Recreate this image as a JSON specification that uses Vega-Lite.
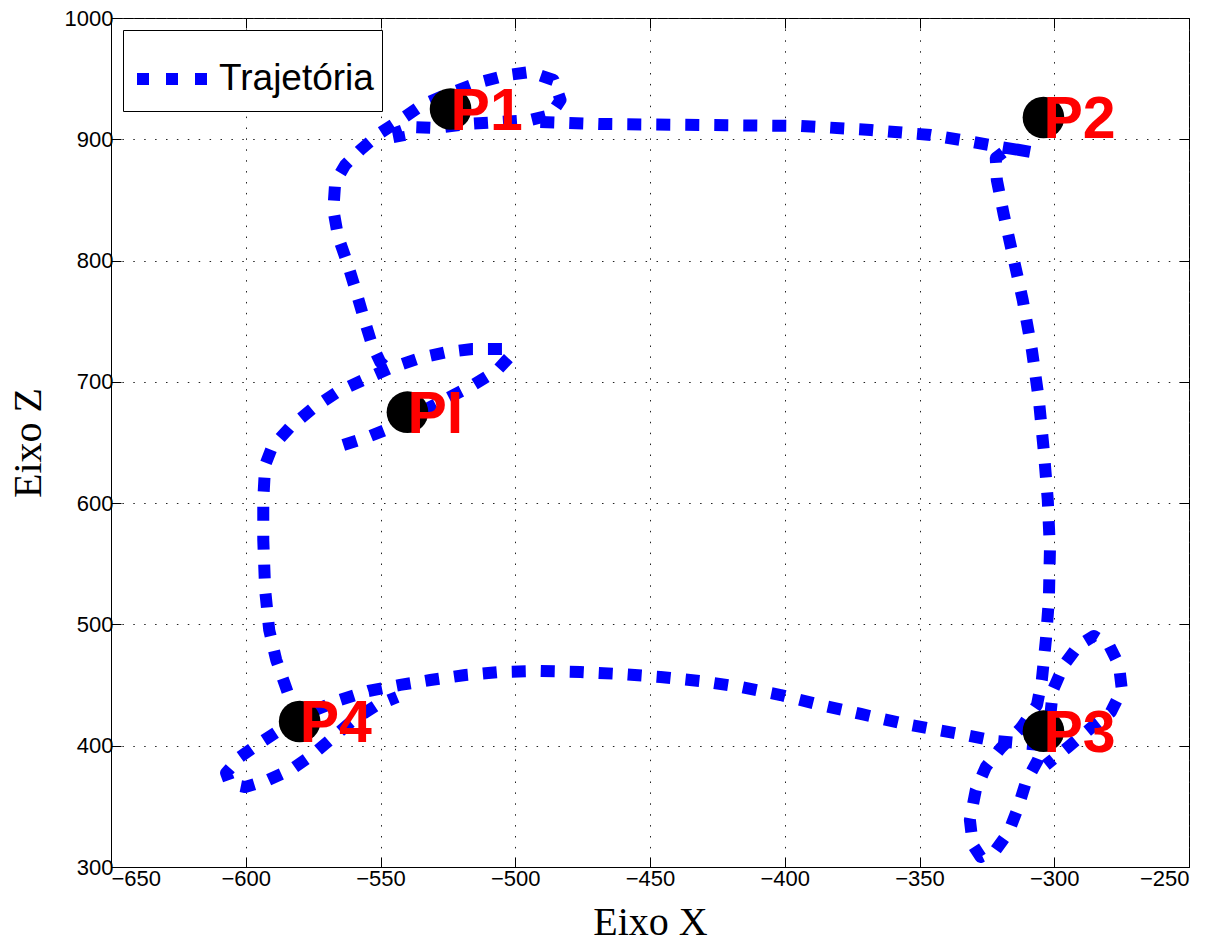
{
  "$schema": "https://vega.github.io/schema/vega-lite/v6.json",
  "width": 1078,
  "height": 849,
  "autosize": {"type": "none"},
  "padding": {"left": 111, "top": 18, "right": 32, "bottom": 75},
  "background": "white",
  "config": {
    "font": "Liberation Sans",
    "view": {"stroke": "black", "strokeWidth": 1},
    "axis": {
      "domainColor": "black",
      "tickColor": "black",
      "labelColor": "black",
      "titleColor": "black",
      "labelFont": "Liberation Sans",
      "labelFontSize": 22,
      "titleFont": "Liberation Serif",
      "titleFontSize": 40,
      "titleFontWeight": "normal",
      "tickSize": -10,
      "gridColor": "#222222",
      "gridDash": [1.5, 9.4],
      "gridWidth": 1,
      "gridOpacity": 1
    },
    "legend": {
      "orient": "top-left",
      "offset": 12,
      "padding": 8,
      "strokeColor": "black",
      "strokeWidth": 1,
      "fillColor": "white",
      "cornerRadius": 0,
      "labelFont": "Liberation Sans",
      "labelFontSize": 37,
      "labelColor": "black",
      "labelOffset": 6,
      "symbolType": "stroke",
      "symbolStrokeWidth": 12,
      "symbolSize": 4900,
      "symbolDash": [12, 17],
      "symbolOpacity": 1
    }
  },
  "datasets": {
    "traj": [
      {"s": 1, "i": 1, "x": -563.8, "z": 647.9},
      {"s": 1, "i": 2, "x": -555.7, "z": 653.7},
      {"s": 1, "i": 3, "x": -546.4, "z": 661.9},
      {"s": 1, "i": 4, "x": -540.8, "z": 668.6},
      {"s": 1, "i": 5, "x": -527.8, "z": 683.4},
      {"s": 1, "i": 6, "x": -515.6, "z": 697.4},
      {"s": 1, "i": 7, "x": -506.6, "z": 709.8},
      {"s": 1, "i": 8, "x": -501.8, "z": 721.3},
      {"s": 1, "i": 9, "x": -503.7, "z": 727.1},
      {"s": 1, "i": 10, "x": -515.9, "z": 727.1},
      {"s": 1, "i": 11, "x": -525.2, "z": 724.6},
      {"s": 1, "i": 12, "x": -535.2, "z": 719.7},
      {"s": 1, "i": 13, "x": -546.4, "z": 711.4},
      {"s": 1, "i": 14, "x": -556.4, "z": 701.5},
      {"s": 1, "i": 15, "x": -566.1, "z": 691.6},
      {"s": 1, "i": 16, "x": -575.0, "z": 678.4},
      {"s": 1, "i": 17, "x": -583.5, "z": 662.8},
      {"s": 1, "i": 18, "x": -590.2, "z": 646.3},
      {"s": 1, "i": 19, "x": -592.8, "z": 631.5},
      {"s": 1, "i": 20, "x": -593.5, "z": 602.6},
      {"s": 1, "i": 21, "x": -593.5, "z": 569.6},
      {"s": 1, "i": 22, "x": -592.8, "z": 528.4},
      {"s": 1, "i": 23, "x": -591.3, "z": 495.4},
      {"s": 1, "i": 24, "x": -588.7, "z": 470.7},
      {"s": 1, "i": 25, "x": -585.4, "z": 450.1},
      {"s": 1, "i": 26, "x": -582.8, "z": 433.6},
      {"s": 1, "i": 27, "x": -581.3, "z": 422.9},

      {"s": 2, "i": 1, "x": -542.7, "z": 897.8},
      {"s": 2, "i": 2, "x": -543.4, "z": 906.0},
      {"s": 2, "i": 3, "x": -538.2, "z": 910.1},
      {"s": 2, "i": 4, "x": -529.7, "z": 909.3},
      {"s": 2, "i": 5, "x": -517.8, "z": 912.6},
      {"s": 2, "i": 6, "x": -505.5, "z": 914.3},
      {"s": 2, "i": 7, "x": -494.4, "z": 915.9},
      {"s": 2, "i": 8, "x": -486.9, "z": 920.0},
      {"s": 2, "i": 9, "x": -483.2, "z": 932.4},
      {"s": 2, "i": 10, "x": -485.8, "z": 948.9},
      {"s": 2, "i": 11, "x": -494.4, "z": 955.5},
      {"s": 2, "i": 12, "x": -502.9, "z": 953.0},
      {"s": 2, "i": 13, "x": -513.0, "z": 947.2},
      {"s": 2, "i": 14, "x": -524.1, "z": 938.2},
      {"s": 2, "i": 15, "x": -534.5, "z": 928.3},
      {"s": 2, "i": 16, "x": -542.7, "z": 915.9},
      {"s": 2, "i": 17, "x": -550.1, "z": 905.2},
      {"s": 2, "i": 18, "x": -557.5, "z": 891.2},
      {"s": 2, "i": 19, "x": -563.1, "z": 878.8},
      {"s": 2, "i": 20, "x": -566.8, "z": 864.8},
      {"s": 2, "i": 21, "x": -567.5, "z": 841.7},
      {"s": 2, "i": 22, "x": -565.7, "z": 819.4},
      {"s": 2, "i": 23, "x": -562.3, "z": 798.0},
      {"s": 2, "i": 24, "x": -559.0, "z": 774.1},
      {"s": 2, "i": 25, "x": -556.0, "z": 751.0},
      {"s": 2, "i": 26, "x": -553.1, "z": 730.4},
      {"s": 2, "i": 27, "x": -550.1, "z": 716.4},
      {"s": 2, "i": 28, "x": -547.1, "z": 709.8},

      {"s": 3, "i": 1, "x": -490.7, "z": 914.3},
      {"s": 3, "i": 2, "x": -468.4, "z": 912.6},
      {"s": 3, "i": 3, "x": -431.2, "z": 911.8},
      {"s": 3, "i": 4, "x": -394.1, "z": 911.0},
      {"s": 3, "i": 5, "x": -368.1, "z": 907.7},
      {"s": 3, "i": 6, "x": -345.8, "z": 903.5},
      {"s": 3, "i": 7, "x": -330.2, "z": 897.8},
      {"s": 3, "i": 8, "x": -319.8, "z": 893.6},
      {"s": 3, "i": 9, "x": -308.7, "z": 889.5},
      {"s": 3, "i": 10, "x": -316.9, "z": 892.8},
      {"s": 3, "i": 11, "x": -321.7, "z": 884.6},
      {"s": 3, "i": 12, "x": -321.3, "z": 866.4},
      {"s": 3, "i": 13, "x": -318.7, "z": 837.6},
      {"s": 3, "i": 14, "x": -315.4, "z": 804.6},
      {"s": 3, "i": 15, "x": -311.7, "z": 767.5},
      {"s": 3, "i": 16, "x": -308.3, "z": 726.3},
      {"s": 3, "i": 17, "x": -305.7, "z": 685.0},
      {"s": 3, "i": 18, "x": -303.9, "z": 643.8},
      {"s": 3, "i": 19, "x": -302.4, "z": 602.6},
      {"s": 3, "i": 20, "x": -301.6, "z": 561.4},
      {"s": 3, "i": 21, "x": -302.0, "z": 520.1},
      {"s": 3, "i": 22, "x": -303.1, "z": 487.2},
      {"s": 3, "i": 23, "x": -304.6, "z": 454.2},
      {"s": 3, "i": 24, "x": -306.4, "z": 433.6},
      {"s": 3, "i": 25, "x": -312.4, "z": 414.6},
      {"s": 3, "i": 26, "x": -319.8, "z": 398.1},
      {"s": 3, "i": 27, "x": -325.4, "z": 382.4},
      {"s": 3, "i": 28, "x": -329.1, "z": 363.5},
      {"s": 3, "i": 29, "x": -331.3, "z": 338.8},
      {"s": 3, "i": 30, "x": -330.2, "z": 318.1},
      {"s": 3, "i": 31, "x": -327.3, "z": 308.3},
      {"s": 3, "i": 32, "x": -321.7, "z": 314.0},
      {"s": 3, "i": 33, "x": -316.9, "z": 328.9},
      {"s": 3, "i": 34, "x": -313.5, "z": 348.6},
      {"s": 3, "i": 35, "x": -310.5, "z": 370.1},
      {"s": 3, "i": 36, "x": -306.1, "z": 388.2},
      {"s": 3, "i": 37, "x": -302.0, "z": 412.8},
      {"s": 3, "i": 38, "x": -300.5, "z": 445.9},
      {"s": 3, "i": 39, "x": -296.4, "z": 466.6},
      {"s": 3, "i": 40, "x": -290.9, "z": 483.0},
      {"s": 3, "i": 41, "x": -285.3, "z": 490.5},
      {"s": 3, "i": 42, "x": -279.7, "z": 483.0},
      {"s": 3, "i": 43, "x": -276.0, "z": 466.6},
      {"s": 3, "i": 44, "x": -274.9, "z": 445.9},
      {"s": 3, "i": 45, "x": -279.0, "z": 427.8},
      {"s": 3, "i": 46, "x": -286.4, "z": 414.6},
      {"s": 3, "i": 47, "x": -294.9, "z": 398.9},
      {"s": 3, "i": 48, "x": -303.1, "z": 384.1},

      {"s": 4, "i": 1, "x": -304.9, "z": 400.6},
      {"s": 4, "i": 2, "x": -321.7, "z": 403.9},
      {"s": 4, "i": 3, "x": -332.8, "z": 408.8},
      {"s": 4, "i": 4, "x": -343.2, "z": 412.9},
      {"s": 4, "i": 5, "x": -357.0, "z": 418.7},
      {"s": 4, "i": 6, "x": -371.8, "z": 426.2},
      {"s": 4, "i": 7, "x": -386.7, "z": 433.6},
      {"s": 4, "i": 8, "x": -401.5, "z": 441.8},
      {"s": 4, "i": 9, "x": -416.4, "z": 448.4},
      {"s": 4, "i": 10, "x": -431.2, "z": 453.3},
      {"s": 4, "i": 11, "x": -446.1, "z": 456.7},
      {"s": 4, "i": 12, "x": -460.9, "z": 459.1},
      {"s": 4, "i": 13, "x": -475.8, "z": 460.8},
      {"s": 4, "i": 14, "x": -490.7, "z": 461.6},
      {"s": 4, "i": 15, "x": -505.5, "z": 460.8},
      {"s": 4, "i": 16, "x": -518.5, "z": 458.3},
      {"s": 4, "i": 17, "x": -531.5, "z": 454.2},
      {"s": 4, "i": 18, "x": -542.7, "z": 450.1},
      {"s": 4, "i": 19, "x": -554.5, "z": 445.1},
      {"s": 4, "i": 20, "x": -565.0, "z": 437.7},
      {"s": 4, "i": 21, "x": -574.2, "z": 429.5},
      {"s": 4, "i": 22, "x": -580.9, "z": 421.2},
      {"s": 4, "i": 23, "x": -588.0, "z": 412.1},
      {"s": 4, "i": 24, "x": -595.4, "z": 401.3},
      {"s": 4, "i": 25, "x": -602.1, "z": 390.7},
      {"s": 4, "i": 26, "x": -607.3, "z": 377.5},
      {"s": 4, "i": 27, "x": -605.8, "z": 368.4},
      {"s": 4, "i": 28, "x": -600.2, "z": 365.9},
      {"s": 4, "i": 29, "x": -591.7, "z": 371.7},
      {"s": 4, "i": 30, "x": -582.8, "z": 380.8},
      {"s": 4, "i": 31, "x": -575.3, "z": 392.4},
      {"s": 4, "i": 32, "x": -567.9, "z": 406.4},
      {"s": 4, "i": 33, "x": -560.5, "z": 420.4},
      {"s": 4, "i": 34, "x": -552.0, "z": 432.7},
      {"s": 4, "i": 35, "x": -543.8, "z": 440.2}
    ],
    "pontos": [
      {"x": -524, "z": 925, "nome": "P1"},
      {"x": -304, "z": 918, "nome": "P2"},
      {"x": -304, "z": 412, "nome": "P3"},
      {"x": -580, "z": 420, "nome": "P4"},
      {"x": -540, "z": 675, "nome": "PI"}
    ]
  },
  "resolve": {"axis": {"x": "independent", "y": "independent"}},
  "layer": [
    {
      "data": {"name": "traj"},
      "mark": {"type": "line", "strokeWidth": 12, "strokeDash": [14, 15], "strokeCap": "butt", "strokeJoin": "round"},
      "encoding": {
        "x": {
          "field": "x", "type": "quantitative",
          "scale": {"domain": [-650, -250], "nice": false, "zero": false},
          "axis": {"title": "Eixo X", "values": [-650, -600, -550, -500, -450, -400, -350, -300, -250],
                   "grid": true, "labelPadding": 11, "titleY": 67, "titleBaseline": "alphabetic",
                   "labelExpr": "replace(datum.label, '-', '\u2212')"}
        },
        "y": {
          "field": "z", "type": "quantitative",
          "scale": {"domain": [300, 1000], "nice": false, "zero": false},
          "axis": {"title": "Eixo Z", "values": [300, 400, 500, 600, 700, 800, 900, 1000], "format": "d",
                   "grid": true, "labelPadding": 8, "titleX": -71, "titleBaseline": "alphabetic"}
        },
        "order": {"field": "i", "type": "quantitative"},
        "detail": {"field": "s", "type": "nominal"},
        "stroke": {
          "datum": "Trajetória",
          "type": "nominal",
          "scale": {"range": ["#0000ff"]},
          "legend": {"title": null}
        }
      }
    },
    {
      "data": {"name": "pontos"},
      "mark": {"type": "circle", "size": 1735, "color": "black", "opacity": 1},
      "encoding": {
        "x": {"field": "x", "type": "quantitative",
              "axis": {"orient": "top", "labels": false, "title": null, "grid": false, "domain": false,
                       "values": [-650, -600, -550, -500, -450, -400, -350, -300, -250]}},
        "y": {"field": "z", "type": "quantitative",
              "axis": {"orient": "right", "labels": false, "title": null, "grid": false, "domain": false,
                       "values": [300, 400, 500, 600, 700, 800, 900, 1000]}}
      }
    },
    {
      "data": {"name": "pontos"},
      "mark": {"type": "text", "font": "Liberation Sans", "fontWeight": "bold", "fontSize": 59,
               "color": "#ff0000", "align": "left", "baseline": "middle", "dy": 3},
      "encoding": {
        "x": {"field": "x", "type": "quantitative", "axis": null},
        "y": {"field": "z", "type": "quantitative", "axis": null},
        "text": {"field": "nome"}
      }
    }
  ]
}
